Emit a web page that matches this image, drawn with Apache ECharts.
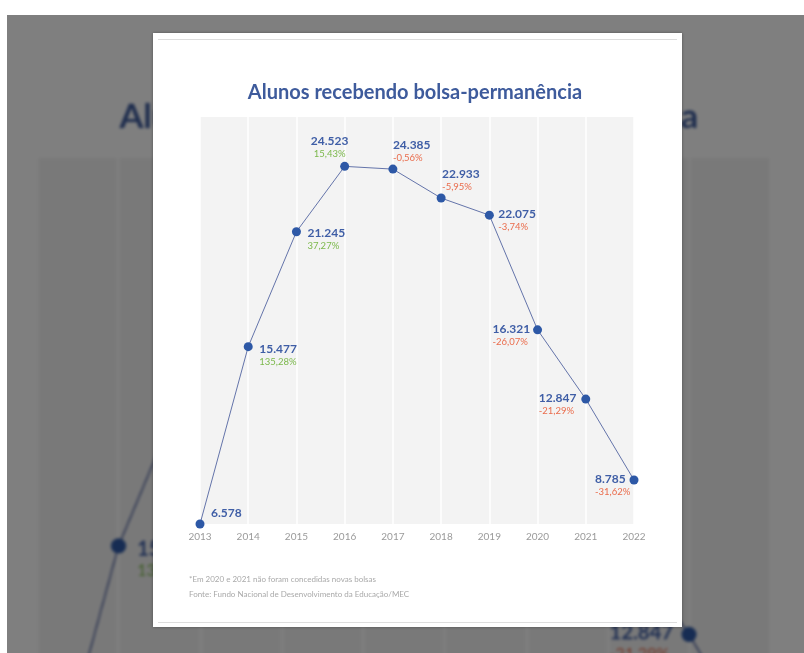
<!DOCTYPE html>
<html><head><meta charset="utf-8">
<script src="https://cdn.jsdelivr.net/npm/echarts@6/dist/echarts.min.js"></script>
<style>
html,body{margin:0;padding:0;width:804px;height:653px;overflow:hidden;background:#fff;font-family:Lato,sans-serif;}
#bgClip{position:absolute;left:0;top:0;width:804px;height:653px;overflow:hidden;clip-path:inset(15px 0 0 7px);}
#bgChart{position:absolute;left:0;top:0;width:804px;height:653px;transform-origin:0 0;transform:translate(-301px,-40px) scale(1.69);filter:blur(1.1px);}
#dim{position:absolute;left:7px;top:15px;right:0;bottom:0;background:rgba(0,0,0,0.5);}
#modal{position:absolute;left:153px;top:33px;width:529px;height:594px;background:#fff;box-shadow:0 0 3px rgba(0,0,0,0.35);}
.rule{position:absolute;left:5px;right:5px;height:1px;background:#dddddd;}
#chart{position:absolute;left:0;top:0;width:804px;height:653px;}
</style></head>
<body>
<div id="bgClip"><div id="bgChart"></div></div>
<div id="dim"></div>
<div id="modal"><div class="rule" style="top:6px"></div><div class="rule" style="top:589px"></div></div>
<div id="chart"></div>
<script>
// ---- data ----
const years = ['2013','2014','2015','2016','2017','2018','2019','2020','2021','2022'];
const values = [6578, 15477, 21245, 24523, 24385, 22933, 22075, 16321, 12847, 8785];
const changes = [null, 135.28, 37.27, 15.43, -0.56, -5.95, -3.74, -26.07, -21.29, -31.62];
const titleText = 'Alunos recebendo bolsa-permanência';
const notes = ['*Em 2020 e 2021 não foram concedidas novas bolsas', 'Fonte: Fundo Nacional de Desenvolvimento da Educação/MEC'];

// label placement (offset of label block top-left from the point centre, alignment)
const labelPlace = [
  [11,-18,'left'],[11,-5,'left'],[11,-6,'left'],[-15,-32,'center'],[0,-31,'left'],
  [1,-31,'left'],[9,-8,'left'],[-45,-8,'left'],[-47,-8,'left'],[-39,-8,'left']
];

function fmtInt(v){ return String(v).replace(/\B(?=(\d{3})+(?!\d))/g,'.'); }
function fmtPct(p){ return (p<0?'-':'') + Math.abs(p).toFixed(2).replace('.',',') + '%'; }

const SYM = 9;
function buildOption(titleX, titleSize){
  const data = values.map((v,i)=>{
    const c = changes[i];
    let txt = '{v|' + fmtInt(v) + '}';
    if (c !== null) txt += '\n{' + (c >= 0 ? 'up' : 'dn') + '|' + fmtPct(c) + '}';
    const p = labelPlace[i];
    return {
      value: v,
      label: {
        show: true,
        position: [p[0] + SYM/2, p[1] + SYM/2],
        align: p[2],
        verticalAlign: 'top',
        formatter: txt
      }
    };
  });
  return {
    animation: false,
    backgroundColor: 'transparent',
    textStyle: {fontFamily: 'Lato'},
    graphic: [
      {type:'text', x:titleX, y:93, style:{text:titleText, textAlign:'center', textVerticalAlign:'middle', font:'bold ' + titleSize + 'px Lato', fill:'#3e5b9c'}},
      {type:'text', x:189, y:579, style:{text:notes[0], textVerticalAlign:'middle', font:'8px Lato', fill:'#a9a9a9'}},
      {type:'text', x:189, y:594, style:{text:notes[1], textVerticalAlign:'middle', font:'8px Lato', fill:'#a9a9a9'}}
    ],
    grid: {left:200, right:170, top:117, bottom:129, show:true, backgroundColor:'#f3f3f3', borderWidth:0},
    xAxis: {
      type:'category', data: years, boundaryGap:false,
      axisLine:{show:false}, axisTick:{show:false},
      axisLabel:{color:'#9a9a9a', fontSize:10, fontFamily:'Lato', margin:8},
      splitLine:{show:true, lineStyle:{color:'#ffffff', width:1.5}}
    },
    yAxis: {
      type:'value', min: Math.min(...values), max: 27000,
      show:false, splitLine:{show:false}
    },
    series: [{
      type:'line', data: data, clip:false,
      symbol:'circle', symbolSize:SYM,
      lineStyle:{color:'#6474aa', width:1},
      itemStyle:{color:'#2d58a6', borderWidth:0},
      label:{
        show:true,
        rich:{
          v:{fontSize:12, fontWeight:'bold', color:'#3f5ea6', lineHeight:14, fontFamily:'Lato'},
          up:{fontSize:9.5, color:'#7cb84c', lineHeight:12, fontFamily:'Lato'},
          dn:{fontSize:9.5, color:'#ea6c4c', lineHeight:12, fontFamily:'Lato'}
        }
      }
    }]
  };
}

const bg = echarts.init(document.getElementById('bgChart'), null, {renderer:'canvas', devicePixelRatio:2});
bg.setOption(buildOption(420, 20.5));
const fg = echarts.init(document.getElementById('chart'), null, {renderer:'canvas'});
fg.setOption(buildOption(415, 20));
</script>
</body></html>
